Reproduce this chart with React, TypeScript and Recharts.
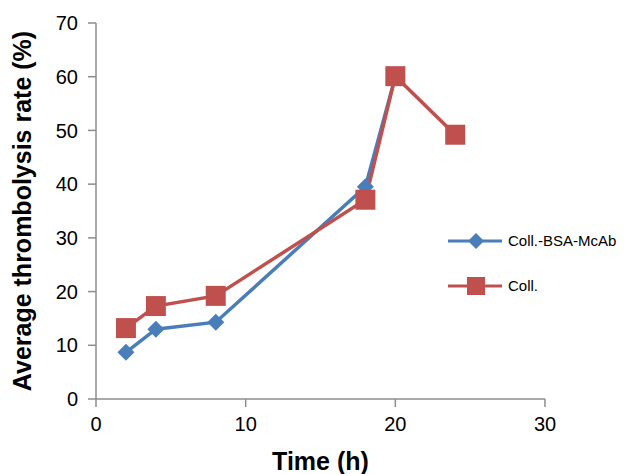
import React from "react";
import {
  LineChart,
  Line,
  XAxis,
  YAxis,
} from "recharts";

const mcabHours = [2, 4, 8, 18, 20];
const mcabRate = [8.7, 13.0, 14.3, 39.5, 60.0];

const collHours = [2, 4, 8, 18, 20, 24];
const collRate = [13.2, 17.3, 19.2, 37.1, 60.1, 49.2];

const xTicks = [0, 10, 20, 30];
const yTicks = [0, 10, 20, 30, 40, 50, 60, 70];

const BLUE = "#4a7ebb";
const RED = "#c0504d";

const mcabData = mcabHours.map((h, i) => ({ h, v: mcabRate[i] }));
const collData = collHours.map((h, i) => ({ h, v: collRate[i] }));

const Diamond = (props: any) => {
  const { cx, cy } = props;
  if (cx == null || cy == null) return null;
  const r = 8.5;
  return (
    <path
      d={`M${cx},${cy - r}L${cx + r},${cy}L${cx},${cy + r}L${cx - r},${cy}Z`}
      fill={BLUE}
    />
  );
};

const Square = (props: any) => {
  const { cx, cy } = props;
  if (cx == null || cy == null) return null;
  const s = 10;
  return <rect x={cx - s} y={cy - s} width={s * 2} height={s * 2} fill={RED} />;
};

// legend drawn as an overlay so it does not steal room from the plot
const LegendBox = () => (
  <svg
    width={180}
    height={70}
    style={{ position: "absolute", left: 448, top: 230, overflow: "visible" }}
  >
    <line x1={0} y1={11} x2={54} y2={11} stroke={BLUE} strokeWidth={3} />
    <path d="M28,3L36,11L28,19L20,11Z" fill={BLUE} />
    <text x={60} y={16} fontSize={15} fill="#000">
      Coll.-BSA-McAb
    </text>
    <line x1={0} y1={56} x2={54} y2={56} stroke={RED} strokeWidth={3} />
    <rect x={19} y={47} width={18} height={18} fill={RED} />
    <text x={60} y={61} fontSize={15} fill="#000">
      Coll.
    </text>
  </svg>
);

export default function App() {
  return (
    <div
      style={{
        position: "absolute",
        left: 0,
        top: 0,
        width: 625,
        height: 474,
        background: "#fff",
        fontFamily: "'Liberation Sans', Arial, sans-serif",
      }}
    >
      <LineChart
        width={625}
        height={474}
        margin={{ top: 23, right: 80, bottom: 0, left: 0 }}
      >
        <XAxis
          dataKey="h"
          type="number"
          domain={[0, 30]}
          ticks={xTicks}
          height={75}
          allowDuplicatedCategory={false}
          stroke="#8c8c8c"
          strokeWidth={1.5}
          tickSize={8}
          tick={{ fill: "#000", fontSize: 20 }}
          tickMargin={10}
          label={{
            value: "Time (h)",
            position: "insideBottom",
            offset: 4,
            style: { fontSize: 25, fontWeight: "bold", fill: "#000" },
          }}
        />
        <YAxis
          type="number"
          domain={[0, 70]}
          ticks={yTicks}
          width={96}
          stroke="#8c8c8c"
          strokeWidth={1.5}
          tickSize={8}
          tick={{ fill: "#000", fontSize: 20 }}
          tickMargin={10}
          label={{
            value: "Average thrombolysis rate (%)",
            angle: -90,
            position: "insideLeft",
            offset: 22,
            style: {
              fontSize: 25,
              fontWeight: "bold",
              fill: "#000",
              textAnchor: "middle",
            },
          }}
        />
        <Line
          data={mcabData}
          dataKey="v"
          name="Coll.-BSA-McAb"
          stroke={BLUE}
          strokeWidth={3.5}
          dot={<Diamond />}
          activeDot={false}
          isAnimationActive={false}
        />
        <Line
          data={collData}
          dataKey="v"
          name="Coll."
          stroke={RED}
          strokeWidth={3.5}
          dot={<Square />}
          activeDot={false}
          isAnimationActive={false}
        />
      </LineChart>
      <LegendBox />
    </div>
  );
}
